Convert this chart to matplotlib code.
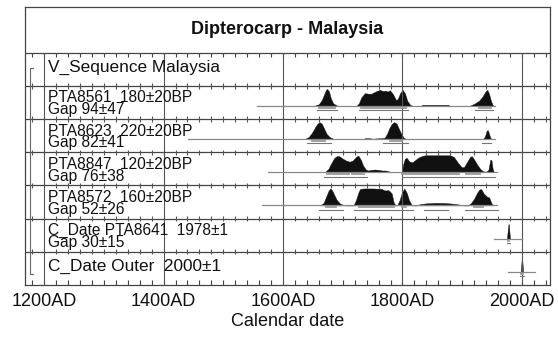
import numpy as np
import matplotlib
matplotlib.use("Agg")
import matplotlib.pyplot as plt

plt.rcParams['font.family'] = ['Liberation Sans', 'DejaVu Sans']

# row labels, top to bottom (second line for the gap)
labels = ["V_Sequence Malaysia",
          "PTA8561  180\u00b120BP",
          "PTA8623  220\u00b120BP",
          "PTA8847  120\u00b120BP",
          "PTA8572  160\u00b120BP",
          "C_Date PTA8641  1978\u00b11",
          "C_Date Outer  2000\u00b11"]
gaps = [None, "Gap 94\u00b147", "Gap 82\u00b141", "Gap 76\u00b138",
        "Gap 52\u00b126", "Gap 30\u00b115", None]

# posterior densities (calendar year, relative height)
pta8561_yr = [1652, 1660, 1665, 1669, 1672, 1674, 1677, 1680, 1684, 1690, 1694,
              1723, 1727, 1731, 1737, 1743, 1748, 1755, 1762, 1767, 1771, 1775,
              1779, 1784, 1789, 1792, 1796, 1800, 1804, 1808, 1813, 1818,
              1830, 1834, 1876, 1880,
              1912, 1920, 1928, 1934, 1939, 1942, 1945, 1948, 1951, 1953]
pta8561_p = [0, 0.1, 0.35, 0.7, 0.95, 1.0, 0.85, 0.45, 0.15, 0.02, 0,
             0, 0.15, 0.5, 0.75, 0.72, 0.72, 0.85, 0.95, 0.88, 0.9, 0.85,
             0.92, 0.7, 0.35, 0.4, 0.75, 0.95, 0.75, 0.3, 0.05, 0,
             0, 0.06, 0.06, 0,
             0, 0.12, 0.3, 0.55, 0.85, 0.95, 0.7, 0.3, 0.05, 0]

pta8623_yr = [1636, 1643, 1648, 1653, 1657, 1661, 1665, 1669, 1673, 1678, 1684, 1688,
              1735, 1737, 1745, 1750, 1758, 1767,
              1770, 1774, 1778, 1782, 1786, 1790, 1794, 1798, 1802, 1806,
              1935, 1938, 1941, 1943, 1945, 1947, 1949]
pta8623_p = [0, 0.12, 0.35, 0.65, 0.88, 1.0, 0.9, 0.6, 0.3, 0.12, 0.02, 0,
             0, 0.05, 0.05, 0.02, 0.04, 0.05,
             0.08, 0.3, 0.65, 0.9, 1.0, 0.92, 0.6, 0.3, 0.08, 0,
             0, 0.15, 0.5, 0.52, 0.3, 0.08, 0]

pta8847_yr = [1670, 1676, 1681, 1686, 1690, 1694, 1700, 1706, 1712, 1717, 1722,
              1726, 1730, 1734, 1738, 1742, 1748, 1754, 1760, 1766, 1772, 1776, 1781,
              1799, 1801, 1804, 1807, 1811, 1816, 1820, 1826, 1832, 1838, 1860,
              1880, 1886, 1893, 1899, 1903, 1908, 1913, 1916, 1920, 1925, 1930,
              1935, 1940, 1944, 1947, 1949, 1951, 1953]
pta8847_p = [0, 0.2, 0.55, 0.85, 0.95, 0.95, 0.8, 0.68, 0.62, 0.7, 0.9,
             0.98, 0.75, 0.4, 0.18, 0.1, 0.14, 0.16, 0.14, 0.1, 0.1, 0.06, 0,
             0, 0.45, 0.8, 0.85, 0.65, 0.58, 0.68, 0.85, 0.95, 1.0, 1.0,
             1.0, 0.9, 0.55, 0.3, 0.3, 0.6, 0.9, 0.95, 0.75, 0.45, 0.2,
             0.05, 0.03, 0.15, 0.75, 0.7, 0.2, 0]

pta8572_yr = [1662, 1668, 1672, 1676, 1679, 1682, 1686, 1690, 1695, 1700, 1705,
              1718, 1722, 1726, 1729, 1735, 1750, 1765, 1769, 1772, 1776, 1779,
              1782, 1785, 1788,
              1791, 1795, 1799, 1803, 1807, 1811, 1815, 1818,
              1824, 1830, 1840, 1855, 1870, 1885, 1895, 1900,
              1910, 1915, 1920, 1925, 1929, 1932, 1936, 1939, 1942, 1945, 1948, 1951]
pta8572_p = [0, 0.15, 0.5, 0.85, 1.0, 0.9, 0.6, 0.32, 0.12, 0.04, 0,
             0, 0.3, 0.75, 0.97, 1.0, 1.0, 0.98, 0.9, 0.88, 0.9, 0.82,
             0.7, 0.2, 0,
             0, 0.3, 0.75, 1.0, 0.75, 0.3, 0.05, 0,
             0, 0.08, 0.12, 0.15, 0.14, 0.1, 0.05, 0,
             0, 0.15, 0.4, 0.75, 0.95, 0.95, 0.7, 0.6, 0.5, 0.48, 0.2, 0]

pta8641_yr = [1975, 1976.5, 1977.5, 1978, 1979, 1980]
pta8641_p = [0, 0.6, 0.85, 0.85, 0.4, 0]

outer_yr = [1998, 1999.3, 2000, 2000.7, 2002]
outer_p = [0, 0.6, 1.0, 0.6, 0]

# extent of the thin line under each distribution
spans = [None, (1556, 1955), (1441, 1955), (1575, 1958), (1565, 1958),
         (1953, 2000), (1977, 2022)]

# highest posterior density ranges: 68.2% and 95.4%
hpd68 = [[], [(1661, 1687), (1731, 1806), (1928, 1948)],
         [(1648, 1670), (1779, 1799)],
         [(1673, 1710), (1715, 1735), (1800, 1895), (1906, 1930)],
         [(1672, 1688), (1727, 1785), (1800, 1806), (1920, 1935)],
         [(1977, 1979)], [(1999, 2001)]]
hpd95 = [[], [(1657, 1690), (1727, 1810), (1921, 1952)],
         [(1640, 1680), (1768, 1810), (1933, 1949)],
         [(1669, 1740), (1800, 1955)],
         [(1661, 1700), (1719, 1790), (1790, 1817), (1836, 1877), (1905, 1960)],
         [(1975, 1980)], [(1997, 2003)]]

dists = [None, (pta8561_yr, pta8561_p), (pta8623_yr, pta8623_p),
         (pta8847_yr, pta8847_p), (pta8572_yr, pta8572_p),
         (pta8641_yr, pta8641_p), (outer_yr, outer_p)]

major_years = [1200, 1400, 1600, 1800, 2000]
major_labels = ["1200AD", "1400AD", "1600AD", "1800AD", "2000AD"]

n_rows = len(labels)
title_h = 1.38
base_off = 0.6      # baseline position inside a row
peak_h = 0.51       # height of a density with value 1

fig = plt.figure(figsize=(5.58, 3.37), dpi=100)
ax = fig.add_axes([0.0448, 0.1543, 0.9409, 0.8249])
ax.set_xlim(1168, 2047)
ax.set_ylim(n_rows, -title_h)
for s in ax.spines.values():
    s.set_color('#444')
    s.set_linewidth(0.9)

ax.text(1607, -title_h / 2, "Dipterocarp - Malaysia", ha='center', va='center',
        fontsize=13, fontweight='bold', color='#111')

# row separators with 20-year ticks
minor = np.arange(1180, 2041, 20)
ax.hlines(range(n_rows), 1168, 2047, color='#444', lw=0.9)
ax.vlines(minor, 0, 0.14, color='#444', lw=0.8)
for r in range(1, n_rows):
    ax.vlines(minor, r - 0.08, r + 0.08, color='#555', lw=0.8)
ax.vlines(minor, n_rows - 0.14, n_rows, color='#444', lw=0.8)
ax.vlines(major_years, 0, n_rows, color='#555', lw=0.8)

# bracket for the sequence
ax.plot([1181, 1177, 1177, 1181], [0.45, 0.45, 6.67, 6.67], color='#666', lw=0.8)

for i in range(n_rows):
    if gaps[i] is None:
        ax.text(1207, i + 0.43, labels[i], va='center', fontsize=12.4, color='#111')
    else:
        ax.text(1207, i + 0.54, labels[i] + "\n" + gaps[i], va='center',
                fontsize=11.2, linespacing=0.74, color='#111')
    if dists[i] is None:
        continue
    base = i + base_off
    x0, x1 = spans[i]
    ax.plot([x0, x1], [base, base], color='#888', lw=0.9)
    yr, p = dists[i]
    ax.fill_between(yr, base, base - np.array(p) * peak_h, color='#111', lw=0.3)
    for a, b in hpd68[i]:
        ax.plot([a, b], [base + 0.06, base + 0.06], color='#999', lw=1.3)
    for a, b in hpd95[i]:
        ax.plot([a, b], [base + 0.13, base + 0.13], color='#777', lw=0.8)

ax.set_yticks([])
ax.set_xticks(major_years, major_labels)
ax.tick_params(axis='x', length=0, pad=6, labelsize=13, labelcolor='#111')
ax.set_xlabel("Calendar date", fontsize=13, labelpad=2, color='#111')

fig.savefig("out.png", dpi=100)
